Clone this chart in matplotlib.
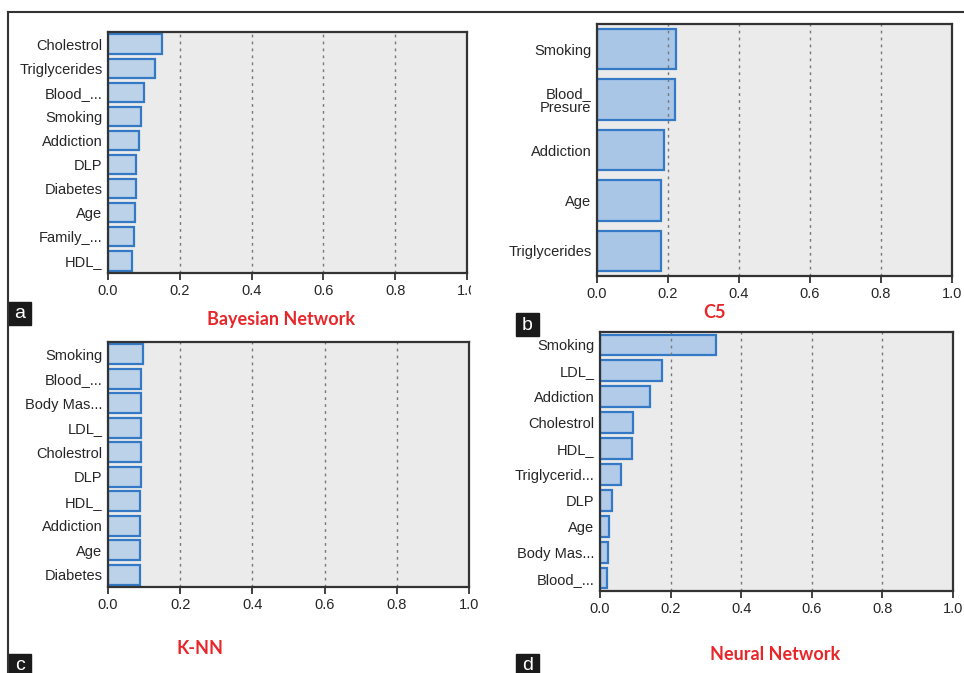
from matplotlib import pyplot as plt
from matplotlib.lines import Line2D
from matplotlib.transforms import Bbox

plt.rcParams['font.family'] = ['Liberation Sans', 'DejaVu Sans']

# feature importance per model (top to bottom as shown)
bayes_labels = ["Cholestrol", "Triglycerides", "Blood_...", "Smoking", "Addiction",
                "DLP", "Diabetes", "Age", "Family_...", "HDL_"]
bayes_values = [0.151, 0.130, 0.099, 0.093, 0.085, 0.079, 0.079, 0.076, 0.072, 0.068]

c5_labels = ["Smoking", "Blood_\nPresure", "Addiction", "Age", "Triglycerides"]
c5_values = [0.223, 0.221, 0.190, 0.181, 0.181]

knn_labels = ["Smoking", "Blood_...", "Body Mas...", "LDL_", "Cholestrol",
              "DLP", "HDL_", "Addiction", "Age", "Diabetes"]
knn_values = [0.097, 0.092, 0.092, 0.092, 0.092, 0.092, 0.088, 0.088, 0.088, 0.088]

nn_labels = ["Smoking", "LDL_", "Addiction", "Cholestrol", "HDL_", "Triglycerid...",
             "DLP", "Age", "Body Mas...", "Blood_..."]
nn_values = [0.330, 0.176, 0.143, 0.094, 0.090, 0.060, 0.035, 0.026, 0.024, 0.021]

x_ticks = [0.0, 0.2, 0.4, 0.6, 0.8, 1.0]

W, H = 964, 673
fig = plt.figure(figsize=(W / 100, H / 100), dpi=100)


def px_axes(l, t, r, b):
    # pixel box -> figure fraction
    return fig.add_axes([l / W, 1 - b / H, (r - l) / W, (b - t) / H])


def draw_panel(ax, labels, values, fill):
    n = len(labels)
    ax.set_facecolor("#ebebeb")
    ax.barh(range(n), values, height=0.8, color=fill, edgecolor="#3479c6",
            linewidth=1.6, zorder=1)
    ax.set_xlim(0, 1.0)
    ax.set_ylim(n - 0.5, -0.5)
    ax.set_yticks(range(n))
    ax.set_yticklabels(labels, fontsize=10.5, color="#262626", linespacing=1.0)
    ax.set_xticks(x_ticks)
    ax.set_xticklabels(["%.1f" % v for v in x_ticks], fontsize=10.5, color="#262626")
    ax.tick_params(axis="y", length=0, pad=4)
    ax.tick_params(axis="x", length=5, width=1.3, pad=3, color="#333333")
    for v in x_ticks[1:-1]:
        ax.axvline(v, color="#777777", linestyle=(0, (2, 3)), linewidth=1, zorder=2)
    for s in ax.spines.values():
        s.set_color("#333333")
        s.set_linewidth(1.6)


ax_a = px_axes(108, 32, 467, 273)
draw_panel(ax_a, bayes_labels, bayes_values, "#bcd2e9")
ax_b = px_axes(597, 24, 952, 276)
draw_panel(ax_b, c5_labels, c5_values, "#a9c6e7")
ax_c = px_axes(108, 342, 469, 587)
draw_panel(ax_c, knn_labels, knn_values, "#bcd2e9")
ax_d = px_axes(600, 332, 953, 591)
draw_panel(ax_d, nn_labels, nn_values, "#b1cbe8")

# the "1.0" label of panel a is cut off in the source
lbl = ax_a.get_xticklabels()[-1]
lbl.set_clip_on(True)
lbl.set_clip_box(Bbox.from_extents(0, 0, 471, H))

# red model titles
title_kw = dict(color="#e8262a", fontsize=13, fontweight="bold",
                family=["Lato", "DejaVu Sans"], ha="center", va="center")
fig.text(281 / W, 1 - 320 / H, "Bayesian Network", **title_kw)
fig.text(715 / W, 1 - 312 / H, "C5", **title_kw)
fig.text(200 / W, 1 - 648 / H, "K-NN", **title_kw)
fig.text(775 / W, 1 - 654 / H, "Neural Network", **title_kw)

# panel letters in black boxes
for letter, x0, y0 in [("a", 8, 302), ("b", 516, 313), ("c", 8, 654), ("d", 516, 654)]:
    fig.patches.append(plt.Rectangle((x0 / W, 1 - (y0 + 23) / H), 23 / W, 23 / H,
                                     transform=fig.transFigure, color="#1a1a1a"))
    fig.text((x0 + 11.5) / W, 1 - (y0 + 12) / H, letter, color="white", fontsize=14,
             ha="center", va="center")

# frame lines
fig.add_artist(Line2D([8 / W, 1], [1 - 12 / H, 1 - 12 / H], color="#333333", linewidth=1.5))
fig.add_artist(Line2D([8 / W, 8 / W], [1 - 12 / H, 0], color="#333333", linewidth=1.5))

fig.savefig("out.png", dpi=100)
